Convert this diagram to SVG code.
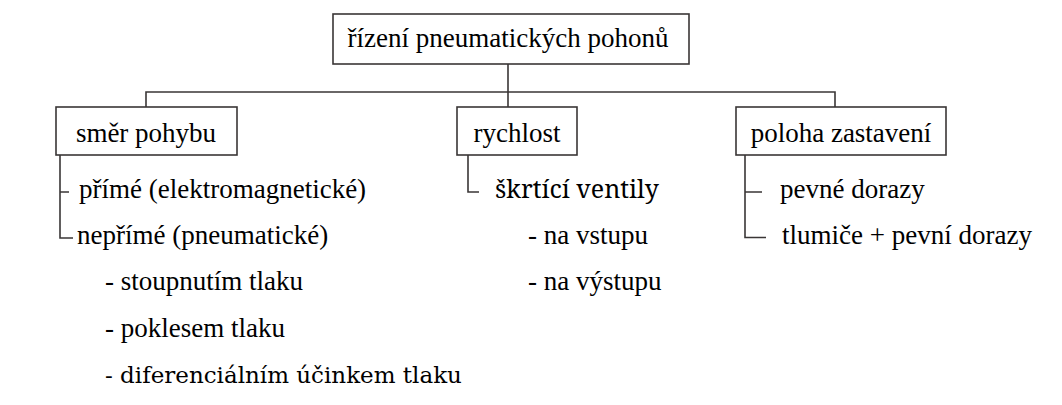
<svg xmlns="http://www.w3.org/2000/svg" width="1062" height="405" viewBox="0 0 1062 405">
<rect width="1062" height="405" fill="#ffffff"/>
<g id="connectors" fill="none" stroke="#3a3636" stroke-width="1.6">
<path d="M508,64 V92 M146,107 V92 H835 V107 M508,92 V107"/>
<path d="M60,155 V238 H73 M60,192 H69"/>
<path d="M468,155 V192 H479"/>
<path d="M745,155 V237.5 H766 M745,192 H762"/>
</g>
<g id="root">
<rect x="333" y="14" width="356" height="50" fill="none" stroke="#3a3636" stroke-width="1.6"/>
<text x="508" y="47" text-anchor="middle" font-family="'Liberation Serif'" font-size="27">řízení pneumatických pohonů</text>
</g>
<g id="smer">
<rect x="56" y="107" width="181" height="48" fill="none" stroke="#3a3636" stroke-width="1.6"/>
<text x="146" y="142" text-anchor="middle" style="font-family:'Liberation Serif',serif;font-size:27px">směr pohybu</text>
</g>
<rect x="457" y="107" width="120" height="48" fill="none" stroke="#3a3636" stroke-width="1.6"/>
<text x="517" y="142" text-anchor="middle" font-family="'Liberation Serif'" font-size="27">rychlost</text>
<g id="poloha">
<rect x="736" y="107" width="210" height="48" fill="none" stroke="#3a3636" stroke-width="1.6"/>
<text x="841" y="142" text-anchor="middle" font-family="Liberation Serif" font-size="27">poloha zastavení</text>
</g>
<text x="79" y="198" font-family="'Liberation Serif'" font-size="27">přímé (elektromagnetické)</text>
<text x="77" y="244" font-family="Times New Roman" font-size="27">nepřímé (pneumatické)</text>
<text x="105" y="290" font-family="serif" font-size="27">- stoupnutím tlaku</text>
<text x="105" y="337" font-family="Tinos" font-size="27">- poklesem tlaku</text>
<text x="105" y="383" font-family="DejaVu Serif" font-size="23">- diferenciálním účinkem tlaku</text>
<text x="495" y="198" font-family="Noto Serif" font-size="25">škrtící ventily</text>
<text x="528" y="244" font-family="'Liberation Serif'" font-size="27">- na vstupu</text>
<text x="528" y="290" font-family="'Liberation Serif'" font-size="27">- na výstupu</text>
<text x="780" y="198" font-family="'Liberation Serif'" font-size="27">pevné dorazy</text>
<text x="782" y="244" font-family="'Liberation Serif'" font-size="27">tlumiče + pevní dorazy</text>
</svg>
